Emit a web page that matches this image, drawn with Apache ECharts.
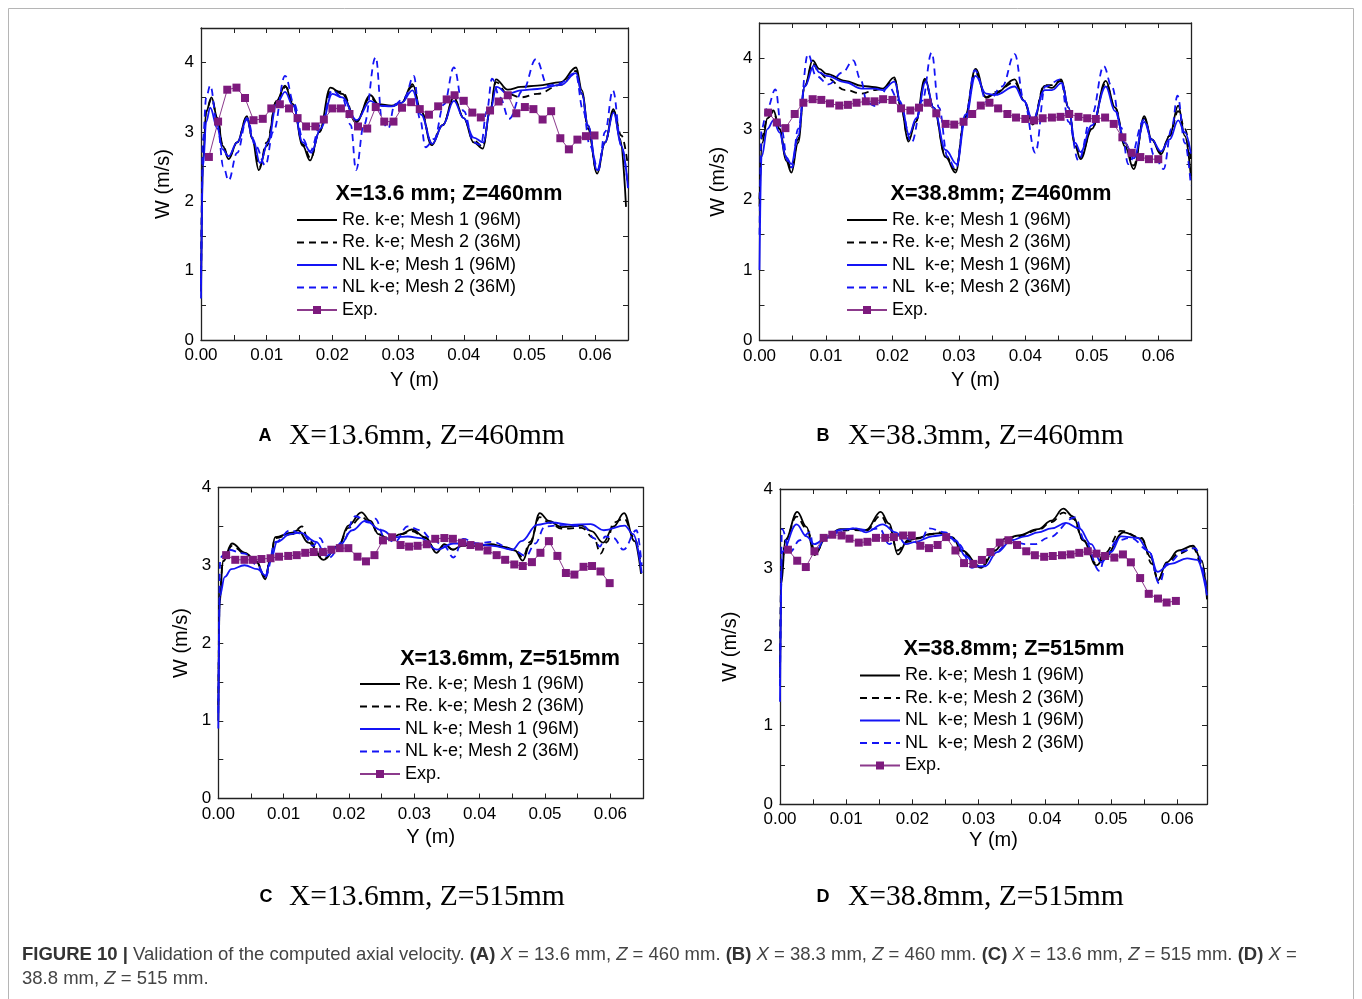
<!DOCTYPE html>
<html><head><meta charset="utf-8">
<script src="https://cdn.jsdelivr.net/npm/echarts@6/dist/echarts.min.js"></script>
<style>html,body{margin:0;padding:0;background:#fff}#c{width:1362px;height:999px}</style>
</head><body><div id="c"></div>
<script>
// ---------------- DATA ----------------
const namesAC = ['Re. k-e; Mesh 1 (96M)','Re. k-e; Mesh 2 (36M)','NL k-e; Mesh 1 (96M)','NL k-e; Mesh 2 (36M)','Exp.'];
const namesBD = ['Re. k-e; Mesh 1 (96M)','Re. k-e; Mesh 2 (36M)','NL  k-e; Mesh 1 (96M)','NL  k-e; Mesh 2 (36M)','Exp.'];
const xTickLabels = ['0.00','0.01','0.02','0.03','0.04','0.05','0.06'];

// Panel A : X=13.6 mm, Z=460 mm
const A_re1 = [[0,0.7],[0.0003,2.6],[0.0008,3.3],[0.0016,3.50],[0.0025,3.2],[0.0033,2.8],[0.0042,2.61],[0.0055,2.85],[0.0070,3.23],[0.0078,2.9],[0.0088,2.45],[0.0100,2.8],[0.0115,3.45],[0.0128,3.67],[0.0140,3.4],[0.0155,2.8],[0.0166,2.59],[0.0180,3.0],[0.0197,3.64],[0.0215,3.55],[0.0236,3.14],[0.0258,3.53],[0.0270,3.40],[0.0290,3.38],[0.0305,3.42],[0.0322,3.69],[0.0335,3.3],[0.0351,2.81],[0.0368,3.1],[0.0385,3.50],[0.0400,3.2],[0.0415,2.85],[0.0429,2.76],[0.0440,3.3],[0.0449,3.76],[0.0467,3.61],[0.0487,3.65],[0.0512,3.67],[0.0548,3.72],[0.0571,3.93],[0.0580,3.6],[0.0589,3.09],[0.0603,2.40],[0.0615,2.85],[0.0628,3.33],[0.0638,2.9],[0.0647,1.92]];
const A_re2 = [[0,0.8],[0.0003,2.7],[0.0008,3.3],[0.0016,3.48],[0.0025,3.2],[0.0033,2.82],[0.0042,2.63],[0.0055,2.85],[0.0070,3.22],[0.0078,2.92],[0.0089,2.50],[0.0100,2.85],[0.0115,3.45],[0.0129,3.65],[0.0140,3.42],[0.0155,2.82],[0.0167,2.62],[0.0180,3.0],[0.0198,3.60],[0.0215,3.58],[0.0236,3.16],[0.0258,3.50],[0.0270,3.38],[0.0290,3.37],[0.0305,3.42],[0.0322,3.66],[0.0335,3.3],[0.0351,2.84],[0.0368,3.1],[0.0385,3.48],[0.0400,3.2],[0.0415,2.88],[0.0429,2.79],[0.0440,3.3],[0.0449,3.72],[0.0467,3.55],[0.0487,3.50],[0.0512,3.55],[0.0548,3.68],[0.0571,3.88],[0.0580,3.55],[0.0589,3.05],[0.0603,2.42],[0.0615,2.85],[0.0628,3.30],[0.0640,2.95],[0.0650,2.50]];
const A_nl1 = [[0,0.6],[0.0003,2.5],[0.0008,3.15],[0.0014,3.35],[0.0025,3.05],[0.0033,2.75],[0.0042,2.65],[0.0055,2.85],[0.0070,3.18],[0.0079,2.9],[0.0090,2.55],[0.0102,2.85],[0.0115,3.4],[0.0128,3.58],[0.0140,3.38],[0.0155,2.85],[0.0168,2.70],[0.0182,3.05],[0.0200,3.55],[0.0215,3.50],[0.0237,3.17],[0.0258,3.45],[0.0270,3.38],[0.0290,3.37],[0.0305,3.42],[0.0322,3.60],[0.0335,3.25],[0.0352,2.83],[0.0368,3.1],[0.0385,3.45],[0.0400,3.2],[0.0415,2.92],[0.0430,2.85],[0.0440,3.3],[0.0450,3.65],[0.0467,3.55],[0.0487,3.60],[0.0512,3.62],[0.0548,3.68],[0.0571,3.85],[0.0580,3.55],[0.0589,3.1],[0.0603,2.45],[0.0615,2.85],[0.0628,3.28],[0.0640,2.8],[0.0650,2.2]];
const A_nl2 = [[0,0.8],[0.0003,2.9],[0.0008,3.5],[0.0014,3.67],[0.0025,3.1],[0.0034,2.5],[0.0042,2.30],[0.0055,2.7],[0.0070,3.2],[0.0083,2.8],[0.0098,2.52],[0.0110,3.0],[0.0128,3.81],[0.0142,3.4],[0.0155,2.9],[0.0166,2.72],[0.0182,3.1],[0.0200,3.6],[0.0215,3.5],[0.0228,3.1],[0.0236,2.45],[0.0248,3.1],[0.0266,4.08],[0.0276,3.14],[0.0285,3.05],[0.0295,3.4],[0.0310,3.5],[0.0324,3.81],[0.0333,3.2],[0.0342,2.78],[0.0355,2.9],[0.0370,3.4],[0.0385,3.93],[0.0400,3.3],[0.0415,2.85],[0.0426,2.81],[0.0435,3.3],[0.0443,3.77],[0.0455,3.5],[0.0469,3.19],[0.0490,3.6],[0.0510,4.05],[0.0528,3.67],[0.0545,3.7],[0.0570,3.85],[0.0582,3.3],[0.0592,2.8],[0.0605,2.45],[0.0615,3.0],[0.0627,3.60],[0.0640,2.8],[0.0650,2.19]];
const A_exp = [[0.0012,2.64],[0.0026,3.15],[0.0040,3.61],[0.0054,3.64],[0.0067,3.49],[0.0080,3.17],[0.0094,3.19],[0.0107,3.34],[0.0120,3.40],[0.0134,3.34],[0.0147,3.20],[0.0160,3.08],[0.0174,3.08],[0.0187,3.18],[0.0200,3.34],[0.0213,3.34],[0.0226,3.26],[0.0239,3.08],[0.0253,3.05],[0.0266,3.36],[0.0279,3.15],[0.0293,3.15],[0.0306,3.35],[0.0320,3.43],[0.0333,3.33],[0.0347,3.25],[0.0361,3.37],[0.0374,3.47],[0.0386,3.53],[0.0400,3.45],[0.0413,3.28],[0.0426,3.21],[0.0440,3.31],[0.0453,3.44],[0.0467,3.53],[0.0480,3.27],[0.0493,3.36],[0.0506,3.33],[0.0520,3.18],[0.0533,3.30],[0.0547,2.91],[0.0560,2.75],[0.0573,2.89],[0.0586,2.94],[0.0599,2.95]];

// Panel B : X=38.8 mm, Z=460 mm
const B_re1 = [[0,1.9],[0.0004,2.8],[0.0012,3.15],[0.0021,3.26],[0.0030,3.0],[0.0040,2.55],[0.0048,2.38],[0.0058,2.8],[0.0068,3.6],[0.0080,3.97],[0.0090,3.85],[0.0101,3.78],[0.0129,3.68],[0.0154,3.61],[0.0174,3.59],[0.0185,3.57],[0.0203,3.73],[0.0213,3.3],[0.0224,2.82],[0.0235,3.1],[0.0249,3.71],[0.0262,3.3],[0.0280,2.6],[0.0295,2.38],[0.0309,3.16],[0.0325,3.85],[0.0341,3.44],[0.0355,3.5],[0.0384,3.70],[0.0398,3.4],[0.0411,3.06],[0.0429,3.61],[0.0440,3.58],[0.0454,3.70],[0.0465,3.3],[0.0475,2.75],[0.0483,2.57],[0.0500,3.0],[0.0521,3.68],[0.0535,3.3],[0.0550,2.75],[0.0563,2.43],[0.0579,3.18],[0.0590,2.85],[0.0604,2.64],[0.0617,2.9],[0.0630,3.33],[0.0640,2.9],[0.0649,2.33]];
const B_re2 = [[0,2.0],[0.0004,2.9],[0.0012,3.15],[0.0021,3.24],[0.0030,3.0],[0.0040,2.6],[0.0048,2.42],[0.0058,2.85],[0.0068,3.6],[0.0080,3.93],[0.0090,3.8],[0.0101,3.72],[0.0129,3.55],[0.0154,3.50],[0.0174,3.55],[0.0185,3.57],[0.0203,3.70],[0.0213,3.3],[0.0224,2.85],[0.0235,3.1],[0.0249,3.68],[0.0262,3.3],[0.0280,2.62],[0.0295,2.42],[0.0309,3.15],[0.0325,3.80],[0.0341,3.45],[0.0355,3.52],[0.0384,3.66],[0.0398,3.4],[0.0411,3.1],[0.0429,3.62],[0.0440,3.62],[0.0454,3.68],[0.0465,3.3],[0.0475,2.78],[0.0483,2.60],[0.0500,3.0],[0.0521,3.65],[0.0535,3.3],[0.0550,2.8],[0.0563,2.48],[0.0579,3.15],[0.0590,2.85],[0.0604,2.66],[0.0617,2.9],[0.0630,3.25],[0.0640,3.0],[0.0649,2.55]];
const B_nl1 = [[0,1.0],[0.0003,2.6],[0.0012,3.0],[0.0021,3.12],[0.0030,2.95],[0.0040,2.6],[0.0048,2.50],[0.0058,2.9],[0.0068,3.6],[0.0082,3.90],[0.0090,3.8],[0.0101,3.75],[0.0129,3.66],[0.0154,3.57],[0.0174,3.57],[0.0185,3.55],[0.0203,3.67],[0.0213,3.35],[0.0225,2.92],[0.0236,3.15],[0.0250,3.67],[0.0262,3.3],[0.0280,2.7],[0.0297,2.50],[0.0309,3.1],[0.0325,3.75],[0.0341,3.5],[0.0355,3.48],[0.0384,3.60],[0.0398,3.4],[0.0411,3.12],[0.0429,3.55],[0.0440,3.55],[0.0455,3.65],[0.0465,3.3],[0.0475,2.8],[0.0483,2.67],[0.0500,3.05],[0.0521,3.60],[0.0535,3.25],[0.0550,2.8],[0.0563,2.58],[0.0579,3.10],[0.0590,2.85],[0.0604,2.68],[0.0617,2.85],[0.0630,3.12],[0.0640,2.95],[0.0649,2.65]];
const B_nl2 = [[0,1.5],[0.0003,3.0],[0.0012,3.3],[0.0024,3.56],[0.0033,3.0],[0.0042,2.55],[0.0049,2.45],[0.0058,3.0],[0.0073,4.06],[0.0085,3.75],[0.0104,3.63],[0.0125,3.8],[0.0141,3.97],[0.0152,3.7],[0.0162,3.37],[0.0175,3.32],[0.0194,3.60],[0.0210,3.4],[0.0229,2.81],[0.0245,3.4],[0.0259,4.08],[0.0270,3.3],[0.0283,2.6],[0.0295,2.43],[0.0310,3.2],[0.0324,3.83],[0.0343,3.37],[0.0365,3.6],[0.0384,4.06],[0.0398,3.4],[0.0415,2.66],[0.0430,3.6],[0.0453,3.7],[0.0465,3.1],[0.0480,2.55],[0.0500,3.2],[0.0518,3.89],[0.0530,3.6],[0.0544,3.02],[0.0555,2.50],[0.0579,3.13],[0.0595,2.6],[0.0608,2.43],[0.0620,3.0],[0.0629,3.47],[0.0640,2.8],[0.0649,2.2]];
const B_exp = [[0.0013,3.23],[0.0026,3.09],[0.0039,3.01],[0.0053,3.21],[0.0066,3.37],[0.0080,3.42],[0.0093,3.41],[0.0106,3.36],[0.0120,3.33],[0.0133,3.34],[0.0146,3.37],[0.0160,3.39],[0.0173,3.39],[0.0186,3.42],[0.0200,3.41],[0.0213,3.29],[0.0227,3.26],[0.0240,3.30],[0.0253,3.37],[0.0266,3.22],[0.0280,3.07],[0.0293,3.06],[0.0307,3.10],[0.0320,3.21],[0.0333,3.33],[0.0346,3.37],[0.0359,3.29],[0.0373,3.21],[0.0386,3.16],[0.0400,3.14],[0.0413,3.12],[0.0426,3.15],[0.0440,3.16],[0.0453,3.17],[0.0466,3.21],[0.0480,3.17],[0.0493,3.15],[0.0506,3.14],[0.0520,3.16],[0.0533,3.07],[0.0546,2.88],[0.0560,2.66],[0.0573,2.60],[0.0586,2.57],[0.0600,2.57]];

// Panel C : X=13.6 mm, Z=515 mm
const C_re1 = [[0,1.0],[0.0002,2.5],[0.0007,3.05],[0.0021,3.28],[0.0041,3.16],[0.0058,3.05],[0.0072,2.82],[0.0080,3.1],[0.0087,3.36],[0.0113,3.42],[0.0122,3.45],[0.0138,3.29],[0.0161,3.07],[0.0184,3.25],[0.0199,3.51],[0.0219,3.68],[0.0233,3.57],[0.0245,3.40],[0.0261,3.34],[0.0280,3.40],[0.0296,3.46],[0.0317,3.36],[0.0334,3.16],[0.0346,3.27],[0.0359,3.2],[0.0374,3.26],[0.0393,3.25],[0.0418,3.27],[0.0435,3.24],[0.0454,3.19],[0.0466,3.06],[0.0477,3.27],[0.0492,3.67],[0.0506,3.57],[0.0525,3.49],[0.0556,3.51],[0.0571,3.44],[0.0589,3.29],[0.0605,3.5],[0.0621,3.67],[0.0637,3.31],[0.0647,2.89]];
const C_re2 = [[0,1.2],[0.0002,2.6],[0.0007,3.05],[0.0021,3.25],[0.0041,3.15],[0.0058,3.05],[0.0072,2.85],[0.0080,3.1],[0.0087,3.35],[0.0113,3.40],[0.0128,3.5],[0.0138,3.32],[0.0161,3.08],[0.0184,3.25],[0.0199,3.48],[0.0219,3.62],[0.0233,3.55],[0.0245,3.40],[0.0261,3.33],[0.0280,3.40],[0.0296,3.44],[0.0317,3.35],[0.0334,3.18],[0.0346,3.26],[0.0359,3.2],[0.0374,3.25],[0.0393,3.25],[0.0418,3.26],[0.0435,3.24],[0.0454,3.2],[0.0466,3.1],[0.0477,3.3],[0.0492,3.62],[0.0506,3.55],[0.0525,3.47],[0.0556,3.48],[0.0575,3.35],[0.0585,3.15],[0.0595,3.3],[0.0605,3.55],[0.0621,3.60],[0.0637,3.35],[0.0647,3.0]];
const C_nl1 = [[0,0.9],[0.0002,2.6],[0.0010,2.85],[0.0020,2.95],[0.0040,3.0],[0.0060,2.95],[0.0072,2.87],[0.0080,3.05],[0.0090,3.3],[0.0110,3.4],[0.0125,3.42],[0.0150,3.3],[0.0165,3.12],[0.0185,3.25],[0.0205,3.45],[0.0225,3.57],[0.0250,3.45],[0.0270,3.36],[0.0290,3.37],[0.0310,3.35],[0.0335,3.2],[0.0360,3.28],[0.0390,3.28],[0.0420,3.25],[0.0450,3.2],[0.0464,3.31],[0.0488,3.52],[0.0510,3.55],[0.0540,3.52],[0.0570,3.53],[0.0590,3.45],[0.0622,3.51],[0.0635,3.4],[0.0648,2.9]];
const C_nl2 = [[0,1.1],[0.0003,3.1],[0.0015,3.2],[0.0040,3.15],[0.0060,3.0],[0.0072,2.85],[0.0088,3.3],[0.0110,3.45],[0.0130,3.4],[0.0145,3.25],[0.0155,3.35],[0.0170,3.1],[0.0190,3.3],[0.0210,3.63],[0.0230,3.55],[0.0240,3.6],[0.0255,3.35],[0.0270,3.3],[0.0290,3.5],[0.0310,3.45],[0.0325,3.35],[0.0345,3.25],[0.0360,3.1],[0.0375,3.34],[0.0395,3.28],[0.0420,3.3],[0.0450,3.2],[0.0471,3.12],[0.0485,3.28],[0.0500,3.5],[0.0530,3.52],[0.0560,3.5],[0.0575,3.35],[0.0584,3.24],[0.0592,3.37],[0.0605,3.35],[0.0620,3.2],[0.0640,3.45],[0.0648,3.0]];
const C_exp = [[0.0012,3.13],[0.0026,3.07],[0.0040,3.07],[0.0053,3.07],[0.0066,3.08],[0.0080,3.09],[0.0093,3.11],[0.0107,3.12],[0.0120,3.13],[0.0133,3.16],[0.0146,3.17],[0.0160,3.17],[0.0173,3.20],[0.0186,3.22],[0.0199,3.22],[0.0213,3.11],[0.0226,3.05],[0.0239,3.13],[0.0252,3.32],[0.0266,3.36],[0.0279,3.26],[0.0292,3.24],[0.0305,3.25],[0.0319,3.27],[0.0332,3.34],[0.0346,3.35],[0.0359,3.34],[0.0373,3.29],[0.0386,3.26],[0.0399,3.24],[0.0412,3.19],[0.0426,3.13],[0.0439,3.07],[0.0453,3.01],[0.0466,2.99],[0.0480,3.04],[0.0493,3.16],[0.0506,3.31],[0.0519,3.12],[0.0532,2.90],[0.0545,2.88],[0.0559,2.98],[0.0572,2.99],[0.0585,2.92],[0.0599,2.77]];

// Panel D : X=38.8 mm, Z=515 mm
const D_re1 = [[0,1.6],[0.0002,2.8],[0.0008,3.35],[0.0026,3.71],[0.0040,3.52],[0.0052,3.16],[0.0070,3.39],[0.0091,3.49],[0.0111,3.49],[0.0130,3.48],[0.0152,3.71],[0.0165,3.56],[0.0178,3.17],[0.0193,3.35],[0.0208,3.37],[0.0226,3.43],[0.0241,3.44],[0.0260,3.39],[0.0275,3.22],[0.0304,3.00],[0.0325,3.22],[0.0340,3.37],[0.0360,3.41],[0.0390,3.49],[0.0410,3.60],[0.0428,3.75],[0.0443,3.65],[0.0458,3.35],[0.0478,3.03],[0.0490,3.13],[0.0519,3.45],[0.0546,3.37],[0.0560,3.13],[0.0571,2.84],[0.0584,3.07],[0.0602,3.22],[0.0624,3.28],[0.0637,3.09],[0.0645,2.60]];
const D_re2 = [[0,1.8],[0.0002,2.9],[0.0008,3.35],[0.0025,3.65],[0.0040,3.5],[0.0054,3.2],[0.0070,3.38],[0.0091,3.47],[0.0111,3.48],[0.0130,3.47],[0.0152,3.66],[0.0165,3.52],[0.0177,3.22],[0.0193,3.33],[0.0208,3.38],[0.0226,3.42],[0.0241,3.45],[0.0260,3.38],[0.0275,3.2],[0.0302,3.02],[0.0325,3.22],[0.0340,3.36],[0.0360,3.40],[0.0390,3.48],[0.0410,3.58],[0.0428,3.70],[0.0443,3.62],[0.0458,3.35],[0.0478,3.05],[0.0490,3.18],[0.0515,3.47],[0.0546,3.38],[0.0562,3.05],[0.0571,2.85],[0.0584,3.05],[0.0602,3.18],[0.0624,3.25],[0.0637,3.05],[0.0645,2.7]];
const D_nl1 = [[0,1.3],[0.0003,3.2],[0.0025,3.55],[0.0040,3.4],[0.0052,3.3],[0.0070,3.38],[0.0090,3.48],[0.0115,3.50],[0.0130,3.45],[0.0155,3.55],[0.0175,3.45],[0.0190,3.3],[0.0205,3.33],[0.0230,3.40],[0.0250,3.42],[0.0265,3.35],[0.0280,3.15],[0.0298,3.02],[0.0310,3.02],[0.0328,3.2],[0.0350,3.35],[0.0370,3.40],[0.0390,3.45],[0.0410,3.50],[0.0432,3.57],[0.0452,3.5],[0.0470,3.3],[0.0485,3.07],[0.0500,3.2],[0.0515,3.4],[0.0540,3.38],[0.0558,3.2],[0.0570,2.95],[0.0590,3.05],[0.0615,3.12],[0.0630,3.1],[0.0645,2.65]];
const D_nl2 = [[0,1.5],[0.0003,3.49],[0.0015,3.2],[0.0030,3.35],[0.0045,3.45],[0.0052,3.18],[0.0070,3.4],[0.0090,3.45],[0.0110,3.5],[0.0130,3.48],[0.0150,3.5],[0.0165,3.3],[0.0180,3.42],[0.0200,3.35],[0.0210,3.3],[0.0225,3.5],[0.0250,3.45],[0.0270,3.3],[0.0290,3.0],[0.0310,3.1],[0.0325,3.2],[0.0350,3.35],[0.0370,3.3],[0.0385,3.3],[0.0405,3.38],[0.0446,3.64],[0.0460,3.35],[0.0483,2.96],[0.0490,3.12],[0.0510,3.35],[0.0530,3.38],[0.0557,3.22],[0.0573,2.8],[0.0584,3.05],[0.0612,3.22],[0.0627,3.25],[0.0645,2.7]];
const D_exp = [[0.0012,3.23],[0.0026,3.09],[0.0039,3.01],[0.0052,3.21],[0.0066,3.38],[0.0079,3.42],[0.0093,3.41],[0.0105,3.37],[0.0119,3.32],[0.0132,3.33],[0.0145,3.38],[0.0159,3.38],[0.0172,3.39],[0.0186,3.41],[0.0199,3.41],[0.0212,3.28],[0.0225,3.25],[0.0238,3.29],[0.0251,3.39],[0.0265,3.22],[0.0278,3.06],[0.0292,3.05],[0.0305,3.10],[0.0318,3.20],[0.0332,3.32],[0.0345,3.35],[0.0358,3.29],[0.0372,3.21],[0.0385,3.16],[0.0399,3.14],[0.0412,3.15],[0.0426,3.16],[0.0439,3.17],[0.0452,3.19],[0.0465,3.21],[0.0478,3.18],[0.0491,3.15],[0.0505,3.13],[0.0518,3.17],[0.0530,3.07],[0.0544,2.87],[0.0557,2.67],[0.0571,2.61],[0.0584,2.56],[0.0598,2.58]];

const legendTitles = ['X=13.6 mm; Z=460mm','X=38.8mm; Z=460mm','X=13.6mm, Z=515mm','X=38.8mm; Z=515mm'];
const panelLetters = ['A','B','C','D'];
const panelCaptions = ['X=13.6mm, Z=460mm','X=38.3mm, Z=460mm','X=13.6mm, Z=515mm','X=38.8mm, Z=515mm'];

// ---------------- LAYOUT ----------------
const SANS = '"Liberation Sans", Arial, sans-serif';
const SERIF = '"Liberation Serif", "Times New Roman", serif';
const panels = [
  {grid:{left:201, top:28, width:427, height:312}, xMax:0.065, yMax:4.5, yGap:28, xGap:30,
   leg:{left:296, top:210}, ttl:{x:449, y:194}, cap:{lx:265, tx:289, y:436},
   series:[A_re1,A_re2,A_nl1,A_nl2,A_exp], names:namesAC},
  {grid:{left:759.5, top:23, width:432, height:317.5}, xMax:0.065, yMax:4.5, yGap:31, xGap:30,
   leg:{left:846, top:210}, ttl:{x:1001, y:194}, cap:{lx:823, tx:848, y:436},
   series:[B_re1,B_re2,B_nl1,B_nl2,B_exp], names:namesBD},
  {grid:{left:218.3, top:487.5, width:424.7, height:311}, xMax:0.065, yMax:4, yGap:27, xGap:29,
   leg:{left:359, top:674}, ttl:{x:510, y:659}, cap:{lx:266, tx:289, y:897},
   series:[C_re1,C_re2,C_nl1,C_nl2,C_exp], names:namesAC},
  {grid:{left:780, top:489, width:427, height:315.3}, xMax:0.0645, yMax:4, yGap:40, xGap:26,
   leg:{left:859, top:665.5}, ttl:{x:1014, y:649}, cap:{lx:823, tx:848, y:897},
   series:[D_re1,D_re2,D_nl1,D_nl2,D_exp], names:namesBD}
];

const BLACK = '#000000', BLUE = '#1414f5', PURPLE = '#7d1a7d';
const styles = [
  {color:BLACK, dash:'solid'},
  {color:BLACK, dash:[7,5]},
  {color:BLUE, dash:'solid'},
  {color:BLUE, dash:[7,5]}
];

const axisLine = {show:true, onZero:false, lineStyle:{color:'#222', width:1.3}};
const grids = [], xAxes = [], yAxes = [], series = [], legends = [], graphics = [];

panels.forEach((p, i) => {
  grids.push(Object.assign({containLabel:false}, p.grid));
  const xBase = {type:'value', gridIndex:i, min:0, max:p.xMax, interval:0.005,
    axisLine, splitLine:{show:false}, axisTick:{inside:true, length:5, lineStyle:{color:'#222'}}};
  xAxes.push(Object.assign({}, xBase, {position:'bottom',
    axisLabel:{margin:7, fontSize:17, fontFamily:SANS, color:'#000',
      formatter:v => { const k = Math.round(v*1000); return (k % 10 === 0) ? xTickLabels[k/10] || '' : ''; }},
    name:'Y (m)', nameLocation:'middle', nameGap:p.xGap, nameTextStyle:{fontSize:20, fontFamily:SANS, color:'#000'}}));
  xAxes.push(Object.assign({}, xBase, {position:'top', axisLabel:{show:false}}));
  const yBase = {type:'value', gridIndex:i, min:0, max:p.yMax, interval:0.5,
    axisLine, splitLine:{show:false}, axisTick:{inside:true, length:5, lineStyle:{color:'#222'}}};
  yAxes.push(Object.assign({}, yBase, {position:'left',
    axisLabel:{margin:7, fontSize:17, fontFamily:SANS, color:'#000',
      formatter:v => { const k = Math.round(v*2); return (k % 2 === 0) ? String(k/2) : ''; }},
    name:'W (m/s)', nameLocation:'middle', nameGap:p.yGap, nameTextStyle:{fontSize:20, fontFamily:SANS, color:'#000'}}));
  yAxes.push(Object.assign({}, yBase, {position:'right', axisLabel:{show:false}}));

  p.series.forEach((d, j) => {
    if (j < 4) {
      series.push({type:'line', name:p.names[j], data:d, xAxisIndex:2*i, yAxisIndex:2*i,
        symbol:'none', showSymbol:false, smooth:0.4, smoothMonotone:'x', z:2+j,
        lineStyle:{color:styles[j].color, width:1.8, type:styles[j].dash},
        itemStyle:{color:styles[j].color}});
    } else {
      series.push({type:'line', name:p.names[j], data:d, xAxisIndex:2*i, yAxisIndex:2*i,
        symbol:'rect', symbolSize:8, z:10,
        lineStyle:{color:'#8c3a8c', width:1},
        itemStyle:{color:PURPLE}});
    }
  });

  legends.push({orient:'vertical', left:p.leg.left, top:p.leg.top, padding:0,
    itemWidth:40, itemHeight:10, itemGap:2.5, selectedMode:false,
    textStyle:{fontSize:18, fontFamily:SANS, color:'#000', lineHeight:20},
    data:p.names.map((n, j) => j < 4 ? {name:n, itemStyle:{opacity:0}} : {name:n})});

  graphics.push({type:'text', x:p.ttl.x, y:p.ttl.y,
    style:{text:legendTitles[i], font:'bold 21.6px ' + SANS, fill:'#000', align:'center', verticalAlign:'middle'}});
  graphics.push({type:'text', x:p.cap.lx, y:p.cap.y,
    style:{text:panelLetters[i], font:'bold 18px ' + SANS, fill:'#000', align:'center', verticalAlign:'middle'}});
  graphics.push({type:'text', x:p.cap.tx, y:p.cap.y,
    style:{text:panelCaptions[i], font:'29.6px ' + SERIF, fill:'#000', align:'left', verticalAlign:'middle'}});
});

// outer frame + figure caption
graphics.push({type:'rect', shape:{x:8.5, y:8.5, width:1345, height:1010}, style:{fill:'none', stroke:'#b5b5b5', lineWidth:1}, silent:true});
const CAPF = '"Liberation Sans", Arial, sans-serif';
const capRich = {
  b:{fontWeight:'bold', fontSize:18.5, fontFamily:CAPF, fill:'#333', color:'#333'},
  i:{fontStyle:'italic', fontSize:18.5, fontFamily:CAPF, fill:'#444', color:'#444'}
};
graphics.push({type:'text', x:22, y:955, style:{
  text:'{b|FIGURE 10 |} Validation of the computed axial velocity. {b|(A)} {i|X} = 13.6 mm, {i|Z} = 460 mm. {b|(B)} {i|X} = 38.3 mm, {i|Z} = 460 mm. {b|(C)} {i|X} = 13.6 mm, {i|Z} = 515 mm. {b|(D)} {i|X} =',
  rich:capRich, fontSize:18.5, fontFamily:CAPF, fill:'#444', verticalAlign:'middle', align:'left'}});
graphics.push({type:'text', x:22, y:979, style:{
  text:'38.8 mm, {i|Z} = 515 mm.',
  rich:capRich, fontSize:18.5, fontFamily:CAPF, fill:'#444', verticalAlign:'middle', align:'left'}});

const chart = echarts.init(document.getElementById('c'), null, {renderer:'canvas', width:1362, height:999});
chart.setOption({
  backgroundColor:'#ffffff',
  animation:false,
  grid:grids, xAxis:xAxes, yAxis:yAxes, series, legend:legends, graphic:graphics
});
</script>
</body></html>
